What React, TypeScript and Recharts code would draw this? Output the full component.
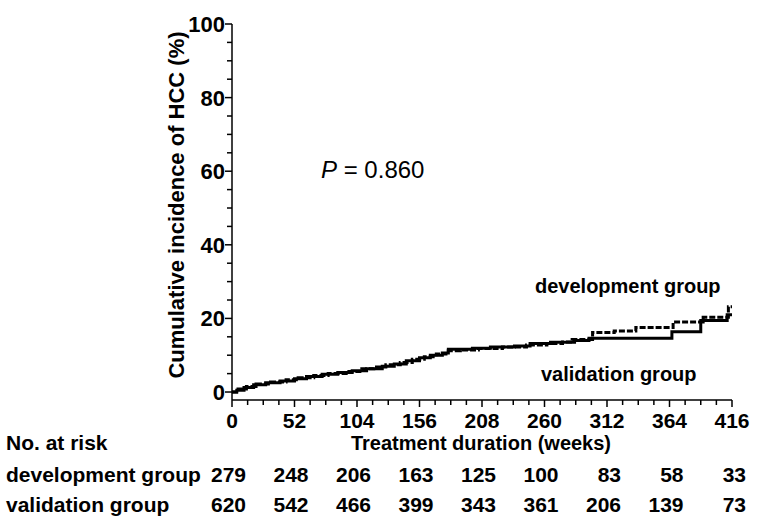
import { LineChart, Line, XAxis, YAxis } from 'recharts';

// weeks at which each curve steps, and cumulative incidence (%) after the step
const devWeeks = [0, 5, 12, 20, 32, 45, 55, 68, 80, 95, 108, 118, 128, 140, 150, 160, 170, 178, 190, 205, 225, 245, 262, 275, 283, 300, 318, 336, 367, 392, 413, 416];
const devValues = [0, 0.8, 1.5, 2.2, 2.7, 3.3, 3.9, 4.5, 5.0, 5.6, 6.3, 6.8, 7.4, 8.0, 8.9, 9.6, 10.3, 11.2, 11.4, 11.8, 12.2, 12.8, 13.2, 13.6, 14.3, 16.2, 16.6, 17.5, 19.0, 20.3, 23.2, 23.2];
const valWeeks = [0, 4, 10, 18, 28, 40, 52, 62, 75, 88, 100, 112, 125, 135, 145, 156, 165, 175, 180, 200, 215, 235, 248, 265, 285, 297, 366, 390, 412, 416];
const valValues = [0, 0.5, 1.2, 2.0, 2.5, 3.0, 3.6, 4.2, 4.8, 5.3, 5.8, 6.3, 7.0, 7.6, 8.5, 9.3, 10.0, 10.6, 11.6, 11.9, 12.2, 12.5, 13.2, 13.5, 14.0, 14.6, 16.4, 19.4, 21.0, 21.0];

const xTicks = [0, 52, 104, 156, 208, 260, 312, 364, 416];
const yTicks = [0, 20, 40, 60, 80, 100];
const devAtRisk = [279, 248, 206, 163, 125, 100, 83, 58, 33];
const valAtRisk = [620, 542, 466, 399, 343, 361, 206, 139, 73];

const devData = devWeeks.map((w, i) => ({ w, v: devValues[i] }));
const valData = valWeeks.map((w, i) => ({ w, v: valValues[i] }));
const xMinor = Array.from({ length: 33 }, (_, i) => i * 13);
const yMinor = Array.from({ length: 21 }, (_, i) => i * 5);

const W = 758;
const H = 517;
const LEFT = 232;
const RIGHT = 732;
const TOP = 24;
const BOTTOM = 400;
const FONT = '"Liberation Sans", Arial, sans-serif';

const XTick = (props: any) => {
  const { x, payload } = props;
  const major = payload.value % 52 === 0;
  return (
    <g>
      <line x1={x} x2={x} y1={BOTTOM} y2={BOTTOM + (major ? 7 : 5)} stroke="#000" strokeWidth={1.5} />
      {major && (
        <text x={x} y={428} textAnchor="middle" fontSize={21} fontWeight="bold" fontFamily={FONT} fill="#000">
          {payload.value}
        </text>
      )}
    </g>
  );
};

const YTick = (props: any) => {
  const { y, payload } = props;
  const major = yTicks.includes(payload.value);
  return (
    <g>
      <line x1={LEFT - (major ? 7 : 5)} x2={LEFT} y1={y} y2={y} stroke="#000" strokeWidth={1.5} />
      {major && (
        <text x={225} y={y + 8} textAnchor="end" fontSize={22} fontWeight="bold" fontFamily={FONT} fill="#000">
          {payload.value}
        </text>
      )}
    </g>
  );
};

const colX = (w: number) => LEFT + (w / 416) * (RIGHT - LEFT);

export default function App() {
  const bold = { fontFamily: FONT, fontWeight: 'bold' as const, fontSize: 20, fill: '#000' };
  const table = { ...bold, fontSize: 21 };
  return (
    <div style={{ position: 'absolute', left: 0, top: 0, width: W, height: H, background: '#fff' }}>
      <LineChart width={W} height={H} margin={{ top: TOP, right: W - RIGHT, bottom: 0, left: 0 }}>
        <XAxis
          type="number"
          dataKey="w"
          domain={[0, 416]}
          ticks={xMinor}
          interval={0}
          tick={<XTick />}
          tickLine={false}
          height={H - BOTTOM}
          axisLine={{ stroke: '#000', strokeWidth: 1.5 }}
          allowDataOverflow
        />
        <YAxis
          type="number"
          domain={[-2.17, 100]}
          ticks={yMinor}
          interval={0}
          tick={<YTick />}
          tickLine={false}
          width={LEFT}
          axisLine={{ stroke: '#000', strokeWidth: 1.5 }}
          allowDataOverflow
        />
        <Line
          data={devData}
          dataKey="v"
          type="stepAfter"
          stroke="#000"
          strokeWidth={3}
          strokeDasharray="6 2"
          dot={false}
          isAnimationActive={false}
        />
        <Line
          data={valData}
          dataKey="v"
          type="stepAfter"
          stroke="#000"
          strokeWidth={3}
          dot={false}
          isAnimationActive={false}
        />
      </LineChart>
      <svg width={W} height={H} style={{ position: 'absolute', left: 0, top: 0, pointerEvents: 'none' }}>
        <text transform="translate(184,205) rotate(-90)" textAnchor="middle" {...bold} fontSize={22}>
          Cumulative incidence of HCC (%)
        </text>
        <text x={321} y={178} fontFamily={FONT} fontSize={24} fill="#000">
          <tspan fontStyle="italic">P</tspan> = 0.860
        </text>
        <text x={535} y={293} {...bold}>development group</text>
        <text x={541} y={381} {...bold}>validation group</text>
        <text x={6} y={450} {...table}>No. at risk</text>
        <text x={481} y={450} textAnchor="middle" {...bold}>Treatment duration (weeks)</text>
        <text x={6} y={482} {...table}>development group</text>
        <text x={6} y={512} {...table}>validation group</text>
        {devAtRisk.map((n, i) => (
          <text key={`d${i}`} x={colX(xTicks[i]) + 14} y={482} textAnchor="end" {...table}>{n}</text>
        ))}
        {valAtRisk.map((n, i) => (
          <text key={`v${i}`} x={colX(xTicks[i]) + 14} y={512} textAnchor="end" {...table}>{n}</text>
        ))}
      </svg>
    </div>
  );
}
